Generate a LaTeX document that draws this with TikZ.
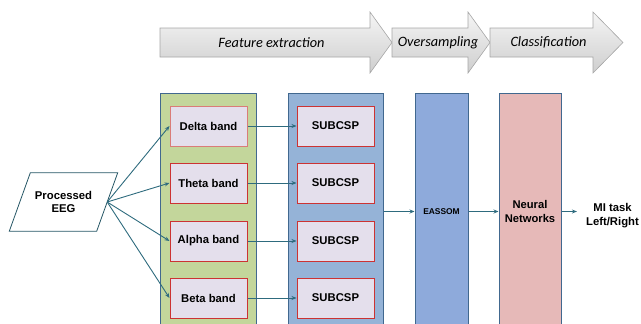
\documentclass[tikz,border=0pt]{standalone}
\usepackage{fontspec}
\setmainfont{Liberation Sans}
\newfontfamily\calibrifont{Carlito}
\usetikzlibrary{arrows.meta}

\definecolor{conn}{HTML}{2E6B7E}
\definecolor{panelline}{HTML}{41688F}
\definecolor{greenfill}{HTML}{C3D69B}
\definecolor{bluefill}{HTML}{95B3D7}
\definecolor{eassomfill}{HTML}{8EAADB}
\definecolor{nnfill}{HTML}{E6B9B8}
\definecolor{bandfill}{HTML}{E4DFEC}
\definecolor{bandred}{HTML}{CC3333}
\definecolor{bandsalmon}{HTML}{DA7C78}

\tikzset{
  steparrow/.style={draw=gray!70, line width=0.6pt, top color=gray!8, bottom color=gray!38},
  steplabel/.style={font=\calibrifont\itshape\fontsize{14.3}{16}\selectfont, inner sep=0pt},
  panel/.style={draw=panelline, line width=1pt, minimum height=237pt, inner sep=0pt},
  bandbox/.style={draw=bandred, fill=bandfill, line width=1pt, minimum width=77pt,
    minimum height=40pt, inner sep=0pt, font=\bfseries\fontsize{11.3}{13}\selectfont},
  boldtext/.style={font=\bfseries\fontsize{11.3}{13.5}\selectfont, align=center, inner sep=0pt},
  link/.style={draw=conn, line width=0.9pt, -{Stealth[length=5pt,width=4pt]}}
}

\begin{document}
\begin{tikzpicture}[x=1pt,y=-1pt]
\useasboundingbox (0,0) rectangle (641,324);
\clip (0,0) rectangle (641,324);

% processing stages
\path[steparrow] (160,28) -- (370,28) -- (370,12) -- (392,42.5) -- (370,73) -- (370,57) -- (160,57) -- cycle;
\path[steparrow] (392,28) -- (468,28) -- (468,12) -- (490,42.5) -- (468,73) -- (468,57) -- (392,57) -- cycle;
\path[steparrow] (490,28) -- (593,28) -- (593,12) -- (623,42.5) -- (593,73) -- (593,57) -- (490,57) -- cycle;
\node[steplabel] (fe) at (271.5,42.5) {Feature extraction};
\node[steplabel] (os) at (438,42.5) {Oversampling};
\node[steplabel] (cl) at (548.5,42.5) {Classification};

% column panels
\node[panel, fill=greenfill, minimum width=96pt] (green) at (208,211.5) {};
\node[panel, fill=bluefill, minimum width=95pt] (blue) at (335.5,211.5) {};
\node[panel, fill=eassomfill, minimum width=53pt, font=\bfseries\fontsize{8.4}{10}\selectfont] (eassom) at (441.5,211.5) {EASSOM};
\node[panel, fill=nnfill, minimum width=62pt, font=\bfseries\fontsize{11.2}{13.5}\selectfont, align=center] (nn) at (530,211.5) {Neural\\Networks};

% frequency bands
\node[bandbox, draw=bandsalmon] (delta) at (208.5,126) {Delta band};
\node[bandbox] (theta) at (208.5,183) {Theta band};
\node[bandbox] (alpha) at (208.5,241) {Alpha band};
\node[bandbox] (beta)  at (208.5,298) {Beta band};

\node[bandbox] (s1) at (335.5,126) {SUBCSP};
\node[bandbox] (s2) at (335.5,183) {SUBCSP};
\node[bandbox] (s3) at (335.5,241) {SUBCSP};
\node[bandbox] (s4) at (335.5,298) {SUBCSP};

% input: slanted data box around the text node
\node[boldtext, minimum width=87pt, minimum height=58pt] (eeg) at (63.5,202) {Processed\\EEG};
\draw[draw=conn!80!black, line width=0.8pt]
  ([xshift=-10.5pt]eeg.south west) -- ([xshift=-10.5pt]eeg.south east)
  -- ([xshift=10.5pt]eeg.north east) -- ([xshift=10.5pt]eeg.north west) -- cycle;

% output
\node[boldtext] (mi) at (612.5,215.5) {MI task\\Left/Right};

% connectors
\foreach \b in {delta,theta,alpha,beta}
  \draw[link] (eeg.east) -- (\b.west);
\draw[link] (delta) -- (s1);
\draw[link] (theta) -- (s2);
\draw[link] (alpha) -- (s3);
\draw[link] (beta) -- (s4);
\draw[link] (blue.east) -- (eassom.west);
\draw[link] (eassom.east) -- (nn.west);
\draw[link, shorten >=9pt] (nn.east) -- (mi.west |- nn.east);
\end{tikzpicture}
\end{document}
